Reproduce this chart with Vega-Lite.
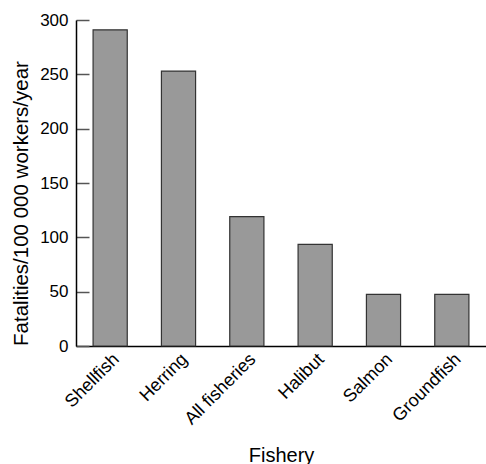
{
  "$schema": "https://vega.github.io/schema/vega-lite/v6.json",
  "autosize": "none",
  "padding": {"left": 76, "top": 20, "right": 0, "bottom": 118},
  "width": 410,
  "height": 326,
  "background": "white",
  "config": {"view": {"stroke": null}, "font": "Liberation Sans"},
  "data": {"values": [
    {"fishery": "Shellfish", "rate": 291},
    {"fishery": "Herring", "rate": 253},
    {"fishery": "All fisheries", "rate": 119},
    {"fishery": "Halibut", "rate": 93.5},
    {"fishery": "Salmon", "rate": 47.5},
    {"fishery": "Groundfish", "rate": 47.5}
  ]},
  "mark": {"type": "bar", "color": "#999999", "stroke": "#333333", "strokeWidth": 1.2},
  "encoding": {
    "x": {
      "field": "fishery", "type": "nominal", "sort": null,
      "scale": {"paddingInner": 0.5, "paddingOuter": 0.25},
      "axis": {
        "title": "Fishery", "labelAngle": -45, "ticks": false,
        "labelFontSize": 18, "labelColor": "black", "labelPadding": 4,
        "titleFontSize": 20, "titleFontWeight": "normal", "titleColor": "black",
        "titleY": 115, "titleBaseline": "alphabetic",
        "domainColor": "black", "domainWidth": 1.5
      }
    },
    "y": {
      "field": "rate", "type": "quantitative",
      "scale": {"domain": [0, 300], "nice": false},
      "axis": {
        "title": "Fatalities/100 000 workers/year", "values": [0, 50, 100, 150, 200, 250, 300],
        "grid": false, "tickSize": -13, "tickColor": "#555555", "tickWidth": 1.5,
        "labelFontSize": 17, "labelColor": "black", "labelPadding": 21,
        "titleFontSize": 20.5, "titleFontWeight": "normal", "titleColor": "black",
        "titleX": -49, "titleY": 183, "titleAlign": "center", "titleBaseline": "alphabetic",
        "domainColor": "black", "domainWidth": 1.5
      }
    }
  }
}
